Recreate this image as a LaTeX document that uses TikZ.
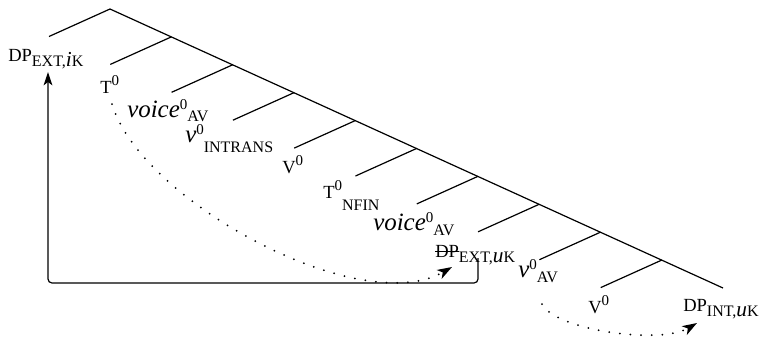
\documentclass[tikz,border=0pt]{standalone}
\usepackage{fontspec}
\setmainfont{Liberation Serif}[ItalicFont={Liberation Serif Italic}]
\usetikzlibrary{arrows.meta}

% label pieces
\newcommand{\hd}[1]{{\fontsize{13.9}{16}\selectfont #1}}
\newcommand{\bigit}[1]{{\fontsize{18.7}{20}\selectfont\itshape #1}}
\newcommand{\subit}[1]{{\fontsize{16}{17}\selectfont\itshape #1}}
\newcommand{\hsup}[2][5.5pt]{\raisebox{#1}{\fontsize{11.25}{12}\selectfont #2}}
\newcommand{\hsub}[2][3.8pt]{\raisebox{-#1}{\fontsize{12}{13}\selectfont #2}}
\newcommand{\strk}[1]{\setbox0\hbox{#1}\rlap{\rule[3.8pt]{\wd0}{0.6pt}}\box0}

\begin{document}
\begin{tikzpicture}[
    x=0.75pt, y=-0.75pt,
    branch/.style={line width=0.9pt},
    leaf/.style={anchor=base west, inner sep=0pt},
    mover/.style={-{Stealth[length=10pt,width=6.5pt,inset=2.5pt]},
        line width=0.9pt, rounded corners=3pt},
    trace/.style={-{Stealth[length=11pt,width=7.5pt,inset=3pt]},
        line width=1.5pt, line cap=round, dash pattern=on 0pt off 8pt}
]
\useasboundingbox (0,0) rectangle (765,337);

%------------------------------------------------
% Tree
%------------------------------------------------
\coordinate (s0)  at (110,9);
\coordinate (s1)  at (171.3,36.9);
\coordinate (s2)  at (232.6,64.8);
\coordinate (s3)  at (293.9,92.7);
\coordinate (s4)  at (355.2,120.6);
\coordinate (s5)  at (416.5,148.5);
\coordinate (s6)  at (477.8,176.4);
\coordinate (s7)  at (539.1,204.3);
\coordinate (s8)  at (600.4,232.2);
\coordinate (s9)  at (661.7,260.1);
\coordinate (s10) at (723,288);

\coordinate (l0) at (49,36.5);
\coordinate (l1) at (110.3,64.4);
\coordinate (l2) at (171.6,92.3);
\coordinate (l3) at (232.9,120.2);
\coordinate (l4) at (294.2,148.1);
\coordinate (l5) at (355.5,176);
\coordinate (l6) at (416.8,203.9);
\coordinate (l7) at (478.1,231.8);
\coordinate (l8) at (539.4,259.7);
\coordinate (l9) at (600.7,287.6);

\draw[branch] (s0) -- (s10);
\draw[branch] (s0) -- (l0);
\draw[branch] (s1) -- (l1);
\draw[branch] (s2) -- (l2);
\draw[branch] (s3) -- (l3);
\draw[branch] (s4) -- (l4);
\draw[branch] (s5) -- (l5);
\draw[branch] (s6) -- (l6);
\draw[branch] (s7) -- (l7);
\draw[branch] (s8) -- (l8);
\draw[branch] (s9) -- (l9);

%------------------------------------------------
% Leaves
%------------------------------------------------
\node[leaf] (dpi)    at (8,61)    {\hd{DP}\hsub{EXT,\subit{i}K}};
\node[leaf] (tzero)  at (100,93)  {\hd{T}\hsup{0}};
\node[leaf] (voicea) at (127,117) {\bigit{voice}\hsup{0}\hsub[3pt]{AV}};
\node[leaf] (vintr)  at (185,142) {\bigit{v}\hsup[5.5pt]{0}\hsub[7.5pt]{INTRANS}};
\node[leaf] (vbig)   at (282,173) {\hd{V}\hsup{0}};
\node[leaf] (tnfin)  at (323,198) {\hd{T}\hsup{0}\hsub[9pt]{NFIN}};
\node[leaf] (voiceb) at (373,230) {\bigit{voice}\hsup{0}\hsub{AV}};
\node[leaf] (dpu)    at (435,257) {\hd{\strk{DP}}\hsub{EXT,\subit{u}K}};
\node[leaf] (vav)    at (518,277) {\bigit{v}\hsup{0}\hsub{AV}};
\node[leaf] (vbigb)  at (588,313) {\hd{V}\hsup{0}};
\node[leaf] (dpint)  at (683,311) {\hd{DP}\hsub{INT,\subit{u}K}};

%------------------------------------------------
% Movement arrows
%------------------------------------------------
\draw[mover] ([shift={(43,1)}]dpu.base west) -- ++(0,25)
    -| ([shift={(40,11)}]dpi.base west);

\draw[trace] ([shift={(12,11)}]tzero.base west)
    .. controls +(28,96) and +(-92,53) ..
    ([shift={(17,10)}]dpu.base west);

\draw[trace] ([shift={(24,27)}]vav.base west)
    .. controls +(13,26) and +(-37,22) ..
    ([shift={(14,12)}]dpint.base west);

\end{tikzpicture}
\end{document}
